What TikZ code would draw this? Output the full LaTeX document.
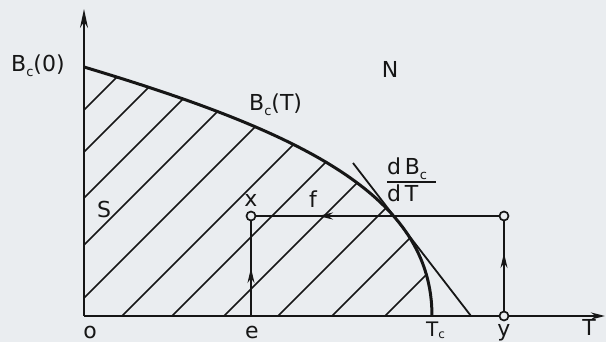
\documentclass[tikz,border=0pt]{standalone}
\usepackage{fontspec}
\setmainfont{DejaVu Sans}
\usetikzlibrary{arrows.meta,calc}
\definecolor{paper}{RGB}{234,237,240}
\definecolor{ink}{RGB}{22,22,22}
\newcommand{\subc}{\raisebox{-0.22em}{\fontsize{13}{13}\selectfont c}}
\newcommand{\subcs}{\raisebox{-0.1em}{\fontsize{12}{12}\selectfont c}}
\begin{document}
\begin{tikzpicture}[x=1pt,y=-1pt,
  lbl/.style={inner sep=0pt, text=ink, font=\fontsize{22}{24}\selectfont},
  hatch/.style={line width=1.6pt, draw=ink},
  axis/.style={line width=2.1pt, draw=ink},
  thinl/.style={line width=1.8pt, draw=ink},
  curve/.style={line width=3.0pt, draw=ink},
  ring/.style={circle, draw=ink, fill=paper, line width=1.7pt, minimum size=9pt, inner sep=0pt},
  midarrow/.style={-{Stealth[length=15pt,width=7pt]}, line width=1.8pt, draw=ink},
]
\fill[paper] (0,0) rectangle (606,342);
\useasboundingbox (0,0) rectangle (606,342);
% key points
\coordinate (O) at (84,316);
\coordinate (Vtip) at (84,9);
\coordinate (B0) at (84,67);
\coordinate (Tc) at (432,316);
\coordinate (Tend) at (605,316);
\coordinate (tanA) at (353,163);
\coordinate (tanB) at (471,316);
\coordinate (E) at (251,316);
% hatching
\begin{scope}
  \clip (O) -- (B0) .. controls (304,133) and (432,196) .. (Tc) -- cycle;
  \foreach \c in {-206,-164,-118,-71,-18,38,88,140,194,248,301}
    \draw[hatch] (84+\c,316) -- ++(420,-420);
\end{scope}
% critical field curve
\draw[curve] (B0) .. controls (304,133) and (432,196) .. (Tc);
% tangent
\draw[thinl] (tanA) -- (tanB);
% rings
\node[ring] (X) at (251,216) {};
\node[ring] (Yt) at (504,216) {};
\node[ring] (Y) at (504,316) {};
% axes
\draw[axis,-{Stealth[length=19pt,width=8pt]}] (O) -- (Vtip);
\draw[axis] (O) -- (Y);
\draw[axis,-{Stealth[length=14pt,width=7pt]}] (Y) -- (Tend);
% paths
\draw[thinl] (E) -- (X);
\draw[thinl] (Y) -- (Yt);
\draw[thinl] (Yt) -- (X);
\draw[midarrow] ($(E)!0.30!(X)$) -- ($(E)!0.48!(X)$);
\draw[midarrow] ($(Y)!0.45!(Yt)$) -- ($(Y)!0.63!(Yt)$);
\draw[midarrow] ($(Yt)!0.60!(X)$) -- ($(Yt)!0.735!(X)$);
% labels
\node[lbl, anchor=base west] (lB0) at (11,72) {B\subc(0)};
\node[lbl, anchor=base] (lN) at (390,78) {N};
\node[lbl, anchor=base west] (lBT) at (249,111) {B\subc(T)};
\node[lbl, anchor=base] (lS) at (104,218) {S};
\node[lbl, anchor=base] (lx) at (251,207) {x};
\node[lbl, anchor=base] (lf) at (313,208) {f};
\node[lbl, anchor=base west] (num) at (387,175) {d\,B\subc};
\node[lbl, anchor=base west] (den) at (387,202) {d\,T};
\draw[line width=1.6pt, ink] (387,182) -- (436,182);
\node[lbl, anchor=base] (lo) at (90,338) {o};
\node[lbl, anchor=base] (le) at (252,338) {e};
\node[lbl, anchor=base west, font=\fontsize{20}{22}\selectfont] (lTc) at (426,336) {T\subcs};
\node[lbl, anchor=base] (ly) at (504,336) {y};
\node[lbl, anchor=base] (lT) at (589,335) {T};
\end{tikzpicture}
\end{document}
